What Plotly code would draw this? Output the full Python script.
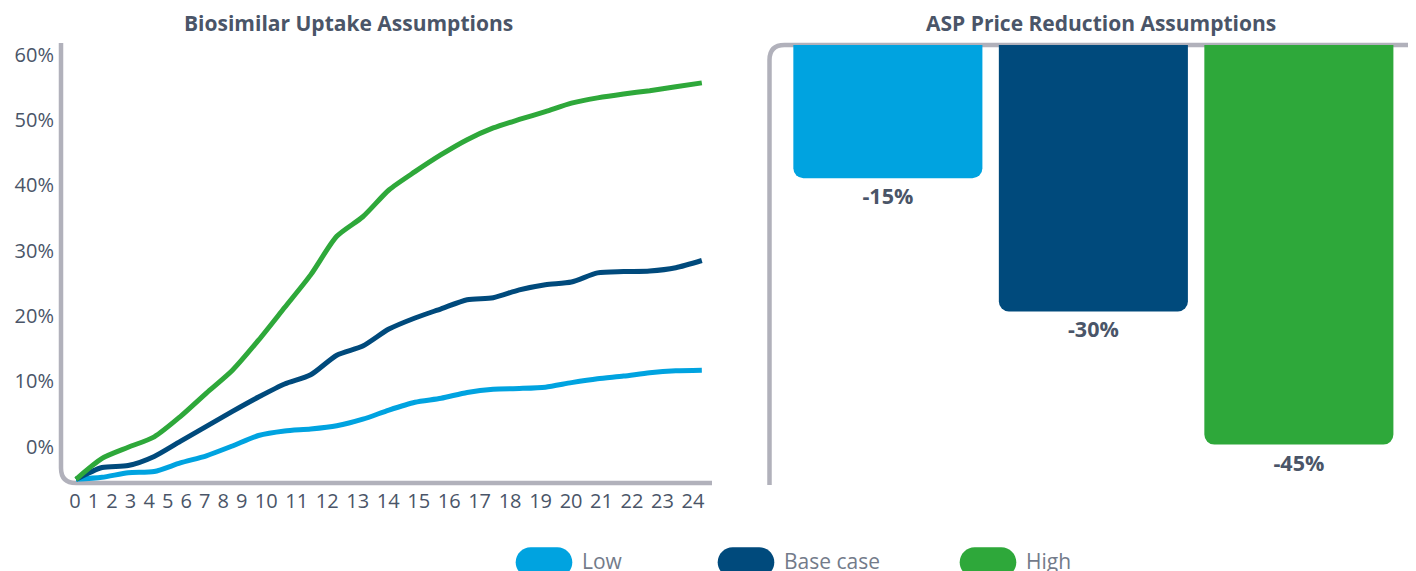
import plotly.graph_objects as go

# ---------------- data ----------------
months = list(range(25))
month_labels = [str(m) for m in months]

uptake_low = [0, 0.3, 1.0, 1.2, 2.5, 3.6, 5.1, 6.7, 7.4, 7.7, 8.2, 9.2, 10.6,
              11.8, 12.4, 13.3, 13.8, 13.9, 14.1, 14.8, 15.4, 15.8, 16.3, 16.6, 16.7]
uptake_base = [0, 1.8, 2.1, 3.5, 5.8, 8.1, 10.4, 12.6, 14.6, 16.0, 19.0, 20.4, 23.0,
               24.7, 26.1, 27.5, 27.8, 29.0, 29.8, 30.2, 31.6, 31.8, 31.9, 32.4, 33.5]
uptake_high = [0, 3.2, 4.9, 6.5, 9.6, 13.2, 16.7, 21.3, 26.3, 31.3, 37.2, 40.2, 44.3,
               47.1, 49.7, 52.0, 53.8, 55.1, 56.3, 57.6, 58.4, 59.0, 59.5, 60.1, 60.7]

y_tick_labels = ["0%", "10%", "20%", "30%", "40%", "50%", "60%"]
y_tick_vals = [5, 15, 25, 35, 45, 55, 65]

scenarios = ["Low", "Base case", "High"]
asp_reduction = [-15, -30, -45]
asp_labels = ["-15%", "-30%", "-45%"]

colors = ["#00a3e0", "#004a7c", "#2ea83a"]

# ---------------- style ----------------
PAGE_OFF = 8                      # page body margin
W, H = 1416 - PAGE_OFF, 571 - PAGE_OFF
FONT = "Open Sans"
TXT = "#4a5568"
LEG_TXT = "#737b8a"
AXIS_GRAY = "#b1b1bb"

def fx(x):
    return (x - PAGE_OFF) / W

def fy(y):
    return 1 - (y - PAGE_OFF) / H

# label layout for the month axis (labels laid out by their text length)
GAP = 0.55
tick_pos = [0.0]
for k in range(1, len(month_labels)):
    tick_pos.append(tick_pos[-1] + (len(month_labels[k - 1]) + len(month_labels[k])) / 2 + GAP)

fig = go.Figure()

series = [("Low", uptake_low), ("Base case", uptake_base), ("High", uptake_high)]
for (name, vals), c in zip(series, colors):
    fig.add_trace(go.Scatter(
        x=months, y=vals, mode="lines", name=name,
        line=dict(color=c, width=5, shape="spline", smoothing=0.7),
        xaxis="x", yaxis="y", showlegend=False, hoverinfo="skip", cliponaxis=False))

# invisible trace to carry the label axis
fig.add_trace(go.Scatter(x=tick_pos, y=[None] * len(tick_pos), mode="markers",
                         xaxis="x3", yaxis="y", showlegend=False, hoverinfo="skip"))

fig.add_trace(go.Bar(
    x=scenarios, y=asp_reduction, marker=dict(color=colors, cornerradius=10),
    width=0.92, text=asp_labels, textposition="outside", texttemplate="%{text}",
    textfont=dict(family=FONT, size=21.5, color=TXT, weight="bold"),
    cliponaxis=False, xaxis="x2", yaxis="y2", showlegend=False, hoverinfo="skip"))

left_dom = [fx(61), fx(712)]
right_dom = [fx(769.5), 1.0]

fig.update_layout(
    width=W, height=H, margin=dict(l=0, r=0, t=0, b=0),
    template="none", paper_bgcolor="white", plot_bgcolor="rgba(0,0,0,0)",
    font=dict(family=FONT, color=TXT, size=20),
    xaxis=dict(domain=left_dom, range=[-0.575, 24.39], showticklabels=False,
               showgrid=False, zeroline=False, showline=False, ticks=""),
    xaxis3=dict(overlaying="x", anchor="y", side="bottom", range=[-1.17, 53.29],
                tickmode="array", tickvals=tick_pos, ticktext=month_labels,
                showgrid=False, zeroline=False, showline=False, ticks="",
                tickfont=dict(size=20, color=TXT), ticklabelstandoff=4),
    yaxis=dict(domain=[fy(483), fy(45)], range=[-0.57, 66.5],
               tickmode="array", tickvals=y_tick_vals, ticktext=y_tick_labels,
               showgrid=False, zeroline=False, showline=False, ticks="",
               tickfont=dict(size=20, color=TXT), ticklabelstandoff=6),
    xaxis2=dict(domain=right_dom, range=[-0.576, 2.57], showticklabels=False,
                showgrid=False, zeroline=False, showline=False, ticks="", anchor="y2"),
    yaxis2=dict(domain=[fy(485), fy(45)], range=[-49.55, 0], showticklabels=False,
                showgrid=False, zeroline=False, showline=False, ticks="", anchor="x2"),
)

# axis frames with rounded corners
R = 15
left_frame = (f"M {fx(61)},{fy(43)} L {fx(61)},{fy(483 - R)} "
              f"Q {fx(61)},{fy(483)} {fx(61 + R)},{fy(483)} L {fx(712)},{fy(483)}")
right_frame = (f"M {fx(769.5)},{fy(485)} L {fx(769.5)},{fy(45 + R)} "
               f"Q {fx(769.5)},{fy(45)} {fx(769.5 + R)},{fy(45)} L {fx(1416)},{fy(45)}")
shapes = []
for p in (left_frame, right_frame):
    shapes.append(dict(type="path", path=p, xref="paper", yref="paper",
                       line=dict(color=AXIS_GRAY, width=4.5), layer="below"))

# legend pills
def pill(x0, y0, x1, y1):
    r = (y1 - y0) / 2
    k = 0.5523 * r
    ym = (y0 + y1) / 2
    pts = [
        f"M {fx(x0 + r)},{fy(y0)}", f"L {fx(x1 - r)},{fy(y0)}",
        f"C {fx(x1 - r + k)},{fy(y0)} {fx(x1)},{fy(ym - k)} {fx(x1)},{fy(ym)}",
        f"C {fx(x1)},{fy(ym + k)} {fx(x1 - r + k)},{fy(y1)} {fx(x1 - r)},{fy(y1)}",
        f"L {fx(x0 + r)},{fy(y1)}",
        f"C {fx(x0 + r - k)},{fy(y1)} {fx(x0)},{fy(ym + k)} {fx(x0)},{fy(ym)}",
        f"C {fx(x0)},{fy(ym - k)} {fx(x0 + r - k)},{fy(y0)} {fx(x0 + r)},{fy(y0)} Z",
    ]
    return " ".join(pts)

legend_x = [515.7, 717.7, 959.7]
PILL_W, PILL_TOP, PILL_H = 56.6, 547.3, 30
annotations = []
for name, c, lx in zip(scenarios, colors, legend_x):
    shapes.append(dict(type="path", path=pill(lx, PILL_TOP, lx + PILL_W, PILL_TOP + PILL_H),
                       xref="paper", yref="paper", fillcolor=c, line=dict(width=0)))
    annotations.append(dict(text=name, x=fx(lx + PILL_W + 7.5), y=fy(560.5), xref="paper",
                            yref="paper", xanchor="left", yanchor="middle", showarrow=False,
                            font=dict(family=FONT, size=21, color=LEG_TXT)))

titles = [("Biosimilar Uptake Assumptions", 348), ("ASP Price Reduction Assumptions", 1101)]
for t, cx in titles:
    annotations.append(dict(text=t, x=fx(cx), y=fy(23), xref="paper", yref="paper",
                            xanchor="center", yanchor="middle", showarrow=False,
                            font=dict(family=FONT, size=21, color=TXT, weight="bold")))

fig.update_layout(shapes=shapes, annotations=annotations)
fig.write_html("out.html")
